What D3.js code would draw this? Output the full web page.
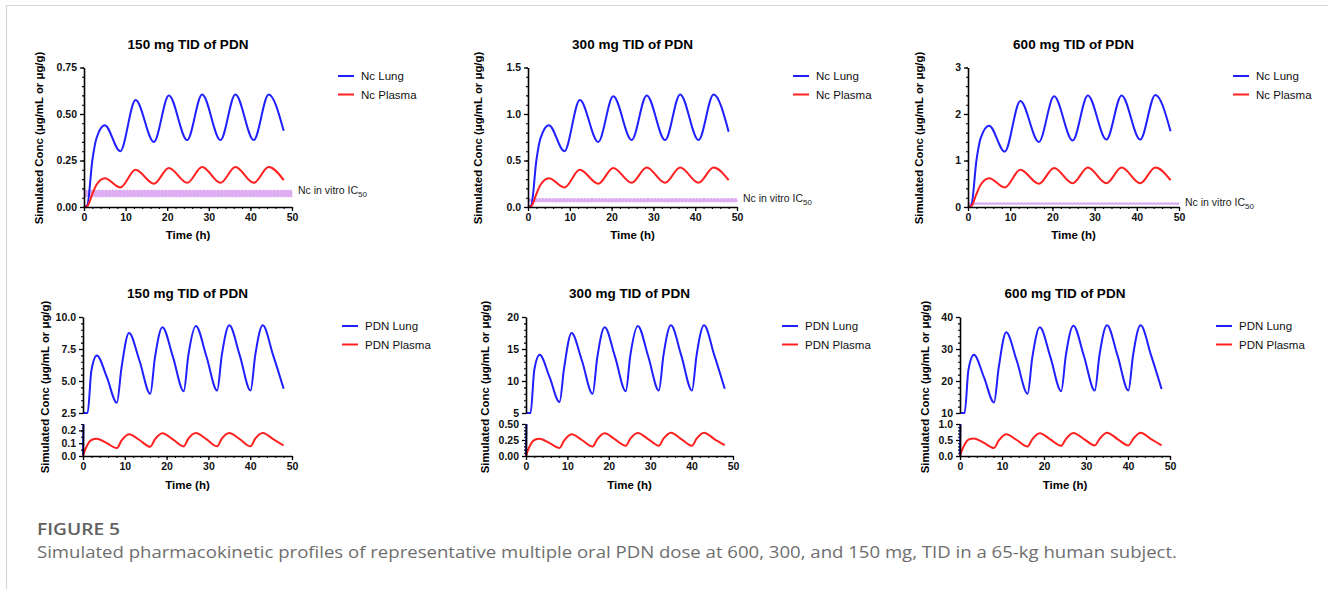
<!DOCTYPE html>
<html>
<head>
<meta charset="utf-8">
<script src="https://cdn.jsdelivr.net/npm/d3@7"></script>
<style>
  body { margin: 0; background: #fff; }
  svg { display: block; font-family: Arial, "Liberation Sans", Helvetica, sans-serif; }
</style>
</head>
<body>
<svg id="chart" width="1328" height="589"></svg>
<script>
// ---- data ----
const doseTitles = ["150 mg TID of PDN", "300 mg TID of PDN", "600 mg TID of PDN"];
const ncLegend = ["Nc Lung", "Nc Plasma"];
const pdnLegend = ["PDN Lung", "PDN Plasma"];

// top row: Nc (metabolite)
const ncTime = [0, 0.8, 2, 3, 5, 8.7, 12.4, 16.8, 20.4, 24.8, 28.4, 32.8, 36.4, 40.8, 44.4, 48];
const ncLung150 = [0, 0.01, 0.25, 0.37, 0.44, 0.30, 0.575, 0.35, 0.60, 0.36, 0.605, 0.36, 0.605, 0.36, 0.605, 0.41];
const ncPlasma150 = [0, 0.005, 0.07, 0.12, 0.155, 0.105, 0.20, 0.125, 0.21, 0.13, 0.215, 0.13, 0.215, 0.13, 0.215, 0.145];
const ncLung300 = [0, 0.02, 0.5, 0.74, 0.88, 0.60, 1.15, 0.70, 1.19, 0.72, 1.20, 0.72, 1.21, 0.72, 1.21, 0.81];
const ncPlasma300 = [0, 0.01, 0.14, 0.24, 0.31, 0.21, 0.40, 0.25, 0.42, 0.26, 0.425, 0.26, 0.425, 0.26, 0.425, 0.29];
const ncLung600 = [0, 0.04, 1.0, 1.48, 1.75, 1.19, 2.28, 1.40, 2.38, 1.43, 2.40, 1.45, 2.40, 1.45, 2.41, 1.63];
const ncPlasma600 = [0, 0.02, 0.28, 0.48, 0.62, 0.42, 0.80, 0.50, 0.84, 0.51, 0.85, 0.51, 0.85, 0.51, 0.85, 0.58];
const ic50Band = [0.055, 0.09];

// bottom row: PDN (parent)
const pdnTime = [0, 0.3, 1.1, 2.0, 3.3, 5.7, 8.1, 9.2, 11.0, 13.5, 16.1, 17.2, 19.0, 21.5, 24.1, 25.2, 27.0, 29.5, 32.1, 33.2, 35.0, 37.5, 40.1, 41.2, 43.0, 45.5, 48];
const pdnLung150 = [0, 0.8, 2.5, 5.8, 7.0, 5.3, 3.3, 6.0, 8.75, 6.6, 4.0, 6.8, 9.2, 6.9, 4.2, 7.0, 9.3, 6.95, 4.25, 7.0, 9.35, 7.0, 4.25, 7.0, 9.35, 7.0, 4.4];
const pdnPlasma150 = [0, 0.03, 0.09, 0.125, 0.135, 0.10, 0.062, 0.12, 0.17, 0.125, 0.072, 0.13, 0.178, 0.13, 0.075, 0.135, 0.18, 0.132, 0.076, 0.135, 0.18, 0.132, 0.076, 0.135, 0.18, 0.132, 0.082];
const pdnLung300 = [0, 1.6, 5.0, 11.7, 14.1, 10.6, 6.7, 12.0, 17.5, 13.2, 8.0, 13.6, 18.4, 13.8, 8.4, 14.0, 18.6, 13.9, 8.5, 14.0, 18.7, 14.0, 8.5, 14.0, 18.7, 14.0, 8.8];
const pdnPlasma300 = [0, 0.06, 0.18, 0.25, 0.27, 0.20, 0.125, 0.24, 0.34, 0.25, 0.15, 0.26, 0.355, 0.26, 0.16, 0.27, 0.36, 0.265, 0.16, 0.27, 0.365, 0.265, 0.16, 0.27, 0.365, 0.265, 0.17];
const pdnLung600 = [0, 3.2, 10, 23.4, 28.2, 21.2, 13.3, 24.0, 35.2, 26.4, 16.0, 27.2, 36.8, 27.6, 16.8, 28.0, 37.3, 27.8, 17.0, 28.0, 37.4, 28.0, 17.0, 28.0, 37.4, 28.0, 17.5];
const pdnPlasma600 = [0, 0.12, 0.36, 0.51, 0.55, 0.41, 0.25, 0.48, 0.68, 0.50, 0.30, 0.52, 0.71, 0.52, 0.32, 0.53, 0.72, 0.53, 0.33, 0.53, 0.73, 0.53, 0.33, 0.53, 0.73, 0.53, 0.33];

const xTicks = [0, 10, 20, 30, 40, 50];

// ---- layout ----
const BLUE = "#1f1fff";
const RED = "#ff2020";

const topPanels = [
  { x0: 84, x1: 292, lung: ncLung150, plasma: ncPlasma150, yMax: 0.75, ticks: [0, 0.25, 0.5, 0.75], fmt: ".2f", minor: 0.05, ylabX: 39, legX: 338 },
  { x0: 528, x1: 737, lung: ncLung300, plasma: ncPlasma300, yMax: 1.5, ticks: [0, 0.5, 1, 1.5], fmt: ".1f", minor: 0.1, ylabX: 478, legX: 793 },
  { x0: 968, x1: 1179, lung: ncLung600, plasma: ncPlasma600, yMax: 3, ticks: [0, 1, 2, 3], fmt: "d", minor: 0.2, ylabX: 919, legX: 1233 }
];

const bottomPanels = [
  { x0: 83, x1: 292, lung: pdnLung150, plasma: pdnPlasma150, up: [2.5, 10], upTicks: [2.5, 5, 7.5, 10], upFmt: ".1f", upMinor: 0.5,
    low: [0, 0.25], lowTicks: [0, 0.1, 0.2], lowFmt: ".1f", lowMinor: 0.05, ylabX: 45, legX: 342 },
  { x0: 526, x1: 733, lung: pdnLung300, plasma: pdnPlasma300, up: [5, 20], upTicks: [5, 10, 15, 20], upFmt: "d", upMinor: 1,
    low: [0, 0.5], lowTicks: [0, 0.25, 0.5], lowFmt: ".2f", lowMinor: 0.05, ylabX: 485, legX: 782 },
  { x0: 960, x1: 1170, lung: pdnLung600, plasma: pdnPlasma600, up: [10, 40], upTicks: [10, 20, 30, 40], upFmt: "d", upMinor: 2,
    low: [0, 1], lowTicks: [0, 0.5, 1], lowFmt: ".1f", lowMinor: 0.1, ylabX: 925, legX: 1216 }
];

const svg = d3.select("#chart");

// light frame of the figure box
svg.append("path")
  .attr("d", "M6.5,589 V5.5 H1328")
  .attr("fill", "none")
  .attr("stroke", "#d6d6d6")
  .attr("stroke-width", 1.2);

const styleAxis = (g) => {
  g.select(".domain").attr("stroke", "#000").attr("stroke-width", 1.6);
  g.selectAll(".tick line").attr("stroke", "#000").attr("stroke-width", 1.3);
  g.selectAll(".tick text")
    .attr("fill", "#111")
    .style("font-size", "10.5px")
    .style("font-weight", "bold")
    .style("font-family", "Arial, 'Liberation Sans', sans-serif");
};

const minorAxis = (g) => {
  g.select(".domain").remove();
  g.selectAll(".tick line").attr("stroke", "#000").attr("stroke-width", 1.1);
};

const drawXAxis = (g, x, yPos) => {
  g.append("g")
    .attr("transform", `translate(0,${yPos})`)
    .call(d3.axisBottom(x).tickValues(d3.range(0, 51, 2)).tickSize(2).tickFormat(""))
    .call(minorAxis);
  g.append("g")
    .attr("transform", `translate(0,${yPos})`)
    .call(d3.axisBottom(x).tickValues(xTicks).tickSize(4).tickSizeOuter(0).tickPadding(3))
    .call(styleAxis);
};

const drawYAxis = (g, y, ticks, fmt, minorStep, xPos) => {
  const [lo, hi] = y.domain();
  g.append("g")
    .attr("transform", `translate(${xPos},0)`)
    .call(d3.axisLeft(y).tickValues(d3.range(lo, hi + minorStep / 2, minorStep)).tickSize(2).tickFormat(""))
    .call(minorAxis);
  g.append("g")
    .attr("transform", `translate(${xPos},0)`)
    .call(d3.axisLeft(y).tickValues(ticks).tickFormat(d3.format(fmt)).tickSize(4).tickSizeOuter(0).tickPadding(3))
    .call(styleAxis);
};

const drawTitles = (g, cx, titleY, timeY, ylabX, ylabY, title) => {
  g.append("text")
    .attr("x", cx).attr("y", titleY)
    .attr("text-anchor", "middle")
    .style("font-size", "13.5px").style("font-weight", "bold")
    .text(title);
  g.append("text")
    .attr("x", cx).attr("y", timeY)
    .attr("text-anchor", "middle")
    .style("font-size", "11.5px").style("font-weight", "bold")
    .text("Time (h)");
  g.append("text")
    .attr("transform", `translate(${ylabX},${ylabY}) rotate(-90)`)
    .attr("text-anchor", "middle")
    .attr("dy", "0.35em")
    .style("font-size", "11.4px").style("font-weight", "bold")
    .text("Simulated Conc (\u03bcg/mL or \u03bcg/g)");
};

const drawLegend = (g, legX, y0, labels) => {
  const item = g.selectAll(null)
    .data(labels)
    .join("g")
    .attr("transform", (d, i) => `translate(${legX},${y0 + i * 18.5})`);
  item.append("line")
    .attr("x1", 0).attr("x2", 16)
    .attr("stroke", (d, i) => (i === 0 ? BLUE : RED))
    .attr("stroke-width", 2);
  item.append("text")
    .attr("x", 23).attr("dy", "0.35em")
    .style("font-size", "11.5px")
    .attr("fill", "#111")
    .text((d) => d);
};

// ---- top row: Nc ----
topPanels.forEach((p, i) => {
  const g = svg.append("g");
  const x = d3.scaleLinear().domain([0, 50]).range([p.x0, p.x1]);
  const y = d3.scaleLinear().domain([0, p.yMax]).range([207, 67.5]);

  // IC50 band
  g.append("rect")
    .attr("x", x(0)).attr("width", x(50) - x(0))
    .attr("y", y(ic50Band[1])).attr("height", y(ic50Band[0]) - y(ic50Band[1]))
    .attr("fill", "#deaef3")
    .attr("stroke", "#cf98ee")
    .attr("stroke-width", 0.8)
    .attr("stroke-dasharray", "2,1.5");

  const ic = g.append("text")
    .attr("x", x(50) + 6).attr("y", y(ic50Band[1]))
    .attr("dy", "0.35em")
    .style("font-size", "10.5px")
    .attr("fill", "#222");
  ic.append("tspan").text("Nc in vitro IC");
  ic.append("tspan").attr("dy", "3").style("font-size", "8px").text("50");

  const line = d3.line()
    .x((d) => x(d[0]))
    .y((d) => y(d[1]))
    .curve(d3.curveMonotoneX);

  [[p.lung, BLUE], [p.plasma, RED]].forEach(([vals, col]) => {
    g.append("path")
      .datum(ncTime.map((t, k) => [t, vals[k]]))
      .attr("d", line)
      .attr("fill", "none")
      .attr("stroke", col)
      .attr("stroke-width", 2);
  });

  drawXAxis(g, x, 207);
  drawYAxis(g, y, p.ticks, p.fmt, p.minor, p.x0);
  drawTitles(g, (p.x0 + p.x1) / 2, 49, 239, p.ylabX, 138, doseTitles[i]);
  drawLegend(g, p.legX, 76, ncLegend);
});

// ---- bottom row: PDN with broken y axis ----
bottomPanels.forEach((p, i) => {
  const g = svg.append("g");
  const x = d3.scaleLinear().domain([0, 50]).range([p.x0, p.x1]);
  const yUp = d3.scaleLinear().domain(p.up).range([413, 317]).clamp(true);
  const yLow = d3.scaleLinear().domain(p.low).range([456, 424]);

  const clipId = `clip-low-${i}`;
  g.append("clipPath").attr("id", clipId)
    .append("rect")
    .attr("x", p.x0 - 2).attr("y", 424)
    .attr("width", p.x1 - p.x0 + 4).attr("height", 34);

  const lineUp = d3.line().x((d) => x(d[0])).y((d) => yUp(d[1])).curve(d3.curveMonotoneX);
  const lineLow = d3.line().x((d) => x(d[0])).y((d) => yLow(d[1])).curve(d3.curveMonotoneX);

  // lung in upper segment (clamped at axis bottom)
  g.append("path")
    .datum(pdnTime.map((t, k) => [t, p.lung[k]]))
    .attr("d", lineUp)
    .attr("fill", "none")
    .attr("stroke", BLUE)
    .attr("stroke-width", 2);

  // both series in lower segment (clipped)
  const low = g.append("g").attr("clip-path", `url(#${clipId})`);
  [[p.lung, BLUE], [p.plasma, RED]].forEach(([vals, col]) => {
    low.append("path")
      .datum(pdnTime.map((t, k) => [t, vals[k]]))
      .attr("d", lineLow)
      .attr("fill", "none")
      .attr("stroke", col)
      .attr("stroke-width", 2);
  });

  drawXAxis(g, x, 456);
  drawYAxis(g, yUp, p.upTicks, p.upFmt, p.upMinor, p.x0);
  drawYAxis(g, yLow, p.lowTicks, p.lowFmt, p.lowMinor, p.x0);
  drawTitles(g, (p.x0 + p.x1) / 2, 298, 489, p.ylabX, 387, doseTitles[i]);
  drawLegend(g, p.legX, 326, pdnLegend);
});

// ---- caption ----
svg.append("text")
  .attr("x", 37).attr("y", 535)
  .style("font-family", "'Open Sans', 'Noto Sans', sans-serif")
  .style("font-size", "16px")
  .style("font-weight", "600")
  .attr("fill", "#606060")
  .attr("textLength", 83)
  .attr("lengthAdjust", "spacingAndGlyphs")
  .text("FIGURE 5");

svg.append("text")
  .attr("x", 37).attr("y", 558)
  .style("font-family", "'Open Sans', 'Noto Sans', sans-serif")
  .style("font-size", "16px")
  .attr("fill", "#6e6e6e")
  .attr("textLength", 1140)
  .attr("lengthAdjust", "spacingAndGlyphs")
  .text("Simulated pharmacokinetic profiles of representative multiple oral PDN dose at 600, 300, and 150 mg, TID in a 65-kg human subject.");
</script>
</body>
</html>
